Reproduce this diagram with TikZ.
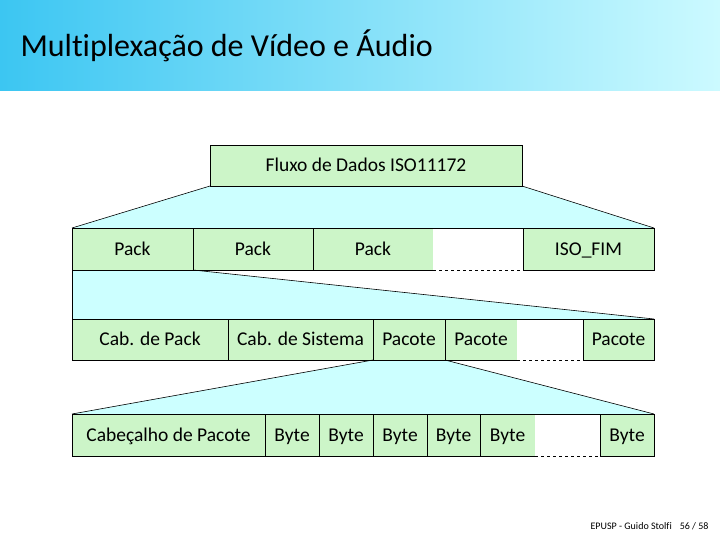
\documentclass[tikz,border=0pt]{standalone}
\usepackage{fontspec}
\setmainfont[Ligatures=NoCommon]{Carlito}
\usetikzlibrary{backgrounds}
\definecolor{boxgreen}{HTML}{CCF5C8}
\definecolor{funnelcyan}{HTML}{CCFFFF}
\definecolor{titleleft}{HTML}{3CC6F2}
\definecolor{titlemid}{HTML}{A0ECFC}
\definecolor{titleright}{HTML}{CCFAFF}

\begin{document}
\begin{tikzpicture}[x=1pt, y=-1pt,
    cell/.style={rectangle, draw=black, fill=boxgreen, line width=0.8pt,
                 minimum height=42pt, inner sep=0pt, outer sep=0pt,
                 text height=16pt, text depth=3.4pt,
                 anchor=north west, font=\fontsize{19.5}{23}\selectfont},
    gap/.style={cell, draw=none, fill=white},
    funnel/.style={fill=funnelcyan},
    slant/.style={draw=black, line width=0.6pt}
]
    \useasboundingbox (0,0) rectangle (720,540);

    % Title bar
    \shade[left color=titleleft, middle color=titlemid, right color=titleright] (0,0) rectangle (720,91);
    \node[anchor=west, font=\fontsize{32}{36}\selectfont] (title) at (17,46) {Multiplexação de Vídeo e Áudio};

    % Stream
    \node[cell, minimum width=312pt, minimum height=41pt] (stream) at (210,145) {Fluxo de Dados ISO11172};

    % Packs
    \node[cell, minimum width=121pt] (pack1) at (72,228) {Pack};
    \node[cell, minimum width=120pt] (pack2) at (193,228) {Pack};
    \node[cell, minimum width=120pt] (pack3) at (313,228) {Pack};
    \node[gap, minimum width=90pt] (gap1) at (433,228) {};
    \node[cell, minimum width=131pt] (isofim) at (523,228) {ISO\_FIM};

    % Pack contents
    \node[cell, minimum width=156pt, minimum height=41pt] (cabpack) at (72,319) {Cab. de Pack};
    \node[cell, minimum width=145pt, minimum height=41pt] (cabsis) at (228,319) {Cab. de Sistema};
    \node[cell, minimum width=72pt, minimum height=41pt] (pacote1) at (373,319) {Pacote};
    \node[cell, minimum width=72pt, minimum height=41pt] (pacote2) at (445,319) {Pacote};
    \node[gap, minimum width=66pt, minimum height=41pt] (gap2) at (517,319) {};
    \node[cell, minimum width=71pt, minimum height=41pt] (pacote3) at (583,319) {Pacote};

    % Packet contents
    \node[cell, minimum width=193pt] (cabpac) at (72,414) {Cabeçalho de Pacote};
    \node[cell, minimum width=54pt] (byte1) at (265,414) {Byte};
    \node[cell, minimum width=54pt] (byte2) at (319,414) {Byte};
    \node[cell, minimum width=54pt] (byte3) at (373,414) {Byte};
    \node[cell, minimum width=53pt] (byte4) at (427,414) {Byte};
    \node[cell, minimum width=55pt] (byte5) at (480,414) {Byte};
    \node[gap, minimum width=65pt] (gap3) at (535,414) {};
    \node[cell, minimum width=54pt] (byte6) at (600,414) {Byte};

    % Gaps: solid top, dashed bottom
    \foreach \g in {gap1,gap2,gap3} {
        \draw[line width=0.8pt] (\g.north west) -- (\g.north east);
        \draw[line width=0.8pt, dashed] (\g.south west) -- (\g.south east);
    }

    % Funnels
    \begin{pgfonlayer}{background}
        \fill[funnel] (stream.south west) -- (stream.south east) -- (isofim.north east) -- (pack1.north west) -- cycle;
        \fill[funnel] (pack1.south west) -- (pack1.south east) -- (pacote3.north east) -- (cabpack.north west) -- cycle;
        \fill[funnel] (pacote1.south west) -- (pacote1.south east) -- (byte6.north east) -- (cabpac.north west) -- cycle;
    \end{pgfonlayer}
    \draw[slant] (stream.south west) -- (pack1.north west);
    \draw[slant] (stream.south east) -- (isofim.north east);
    \draw[slant] (pack1.south west) -- (cabpack.north west);
    \draw[slant] (pack1.south east) -- (pacote3.north east);
    \draw[slant] (pacote1.south west) -- (cabpac.north west);
    \draw[slant] (pacote1.south east) -- (byte6.north east);

    % Footer
    \node[anchor=east, font=\fontsize{10}{12}\selectfont] (footer) at (712,526) {EPUSP - Guido Stolfi\hspace{8pt}56 / 58};
\end{tikzpicture}
\end{document}
